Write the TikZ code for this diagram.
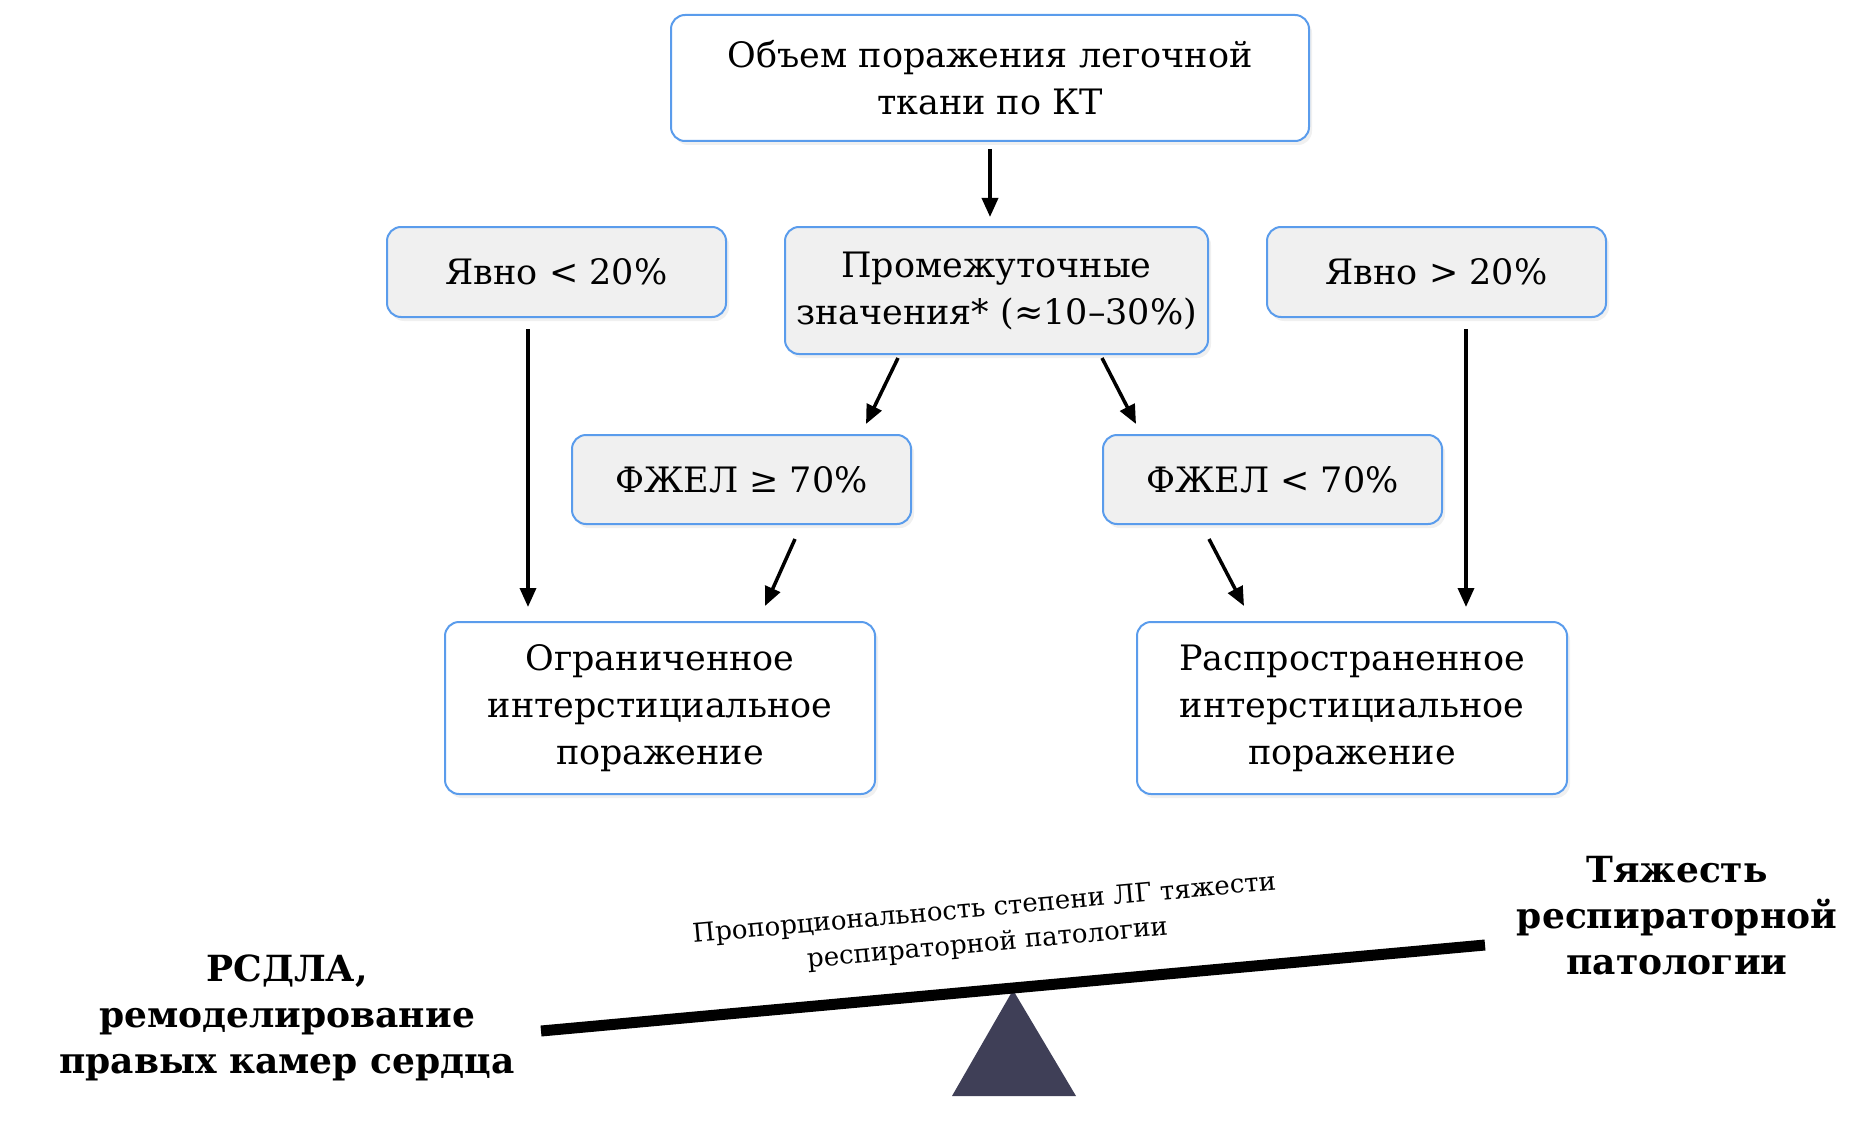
\documentclass[tikz,border=0pt]{standalone}
\usepackage{fontspec}
\setmainfont{DejaVu Serif}
\usetikzlibrary{arrows.meta,calc,shadows}
\definecolor{bordblue}{HTML}{5A9CEC}
\definecolor{boxgray}{HTML}{F0F0F0}
\definecolor{fulcrum}{HTML}{3F3F57}
\tikzset{
  box/.style={draw=bordblue, line width=2pt, rounded corners=14pt, align=center,
    inner sep=0pt, font=\fontsize{35}{47}\selectfont,
    drop shadow={opacity=0.12, shadow xshift=3pt, shadow yshift=-4pt}},
  whitebox/.style={box, fill=white},
  graybox/.style={box, fill=boxgray},
  arr/.style={line width=3.5pt, -{Triangle[length=19pt,width=16pt]}},
  bigLabel/.style={align=center, font=\bfseries\fontsize{36}{46}\selectfont},
  smallLabel/.style={align=center, font=\fontsize{26}{35}\selectfont}
}
\begin{document}
\begin{tikzpicture}[x=1pt,y=-1pt]
\useasboundingbox (0,0) rectangle (1852,1134);
% boxes
\node[whitebox, minimum width=638pt, minimum height=126pt] (top) at (990,78) {Объем поражения легочной\\ткани по КТ};
\node[graybox, minimum width=339pt, minimum height=90pt] (yl) at (556.5,272) {Явно < 20\%};
\node[graybox, minimum width=423pt, minimum height=127pt] (mid) at (996.5,290.5) {Промежуточные\\значения* (≈10–30\%)};
\node[graybox, minimum width=339pt, minimum height=90pt] (yr) at (1436.5,272) {Явно > 20\%};
\node[graybox, minimum width=339pt, minimum height=89pt] (fa) at (741.5,479.5) {ФЖЕЛ ≥ 70\%};
\node[graybox, minimum width=339pt, minimum height=89pt] (fb) at (1272.5,479.5) {ФЖЕЛ < 70\%};
\node[whitebox, minimum width=430pt, minimum height=172pt] (ogr) at (660,708) {Ограниченное\\интерстициальное\\поражение};
\node[whitebox, minimum width=430pt, minimum height=172pt] (ras) at (1352,708) {Распространенное\\интерстициальное\\поражение};
% arrows
\draw[arr] ($(top.south)+(0,7)$) -- ($(mid.north)+(-6.5,-9)$);
\draw[arr] ($(yl.south)+(-28.5,11)$) -- ($(ogr.north)+(-132,-14)$);
\draw[arr] ($(yr.south)+(29.5,11)$) -- ($(ras.north)+(114,-14)$);
\draw[arr] ($(mid.south)+(-98.5,3)$) -- ($(fa.north)+(124.5,-10)$);
\draw[arr] ($(mid.south)+(105.5,3)$) -- ($(fb.north)+(-136.5,-10)$);
\draw[arr] ($(fa.south)+(53.5,14)$) -- ($(ogr.north)+(105,-15)$);
\draw[arr] ($(fb.south)+(-63.5,14)$) -- ($(ras.north)+(-108,-15)$);
% seesaw
\coordinate (apex) at (1013,990);
\coordinate (bl) at (952,1096);
\coordinate (br) at (1076,1096);
\fill[fulcrum] (apex) -- (br) -- (bl) -- cycle;
\coordinate (beamL) at (541,1031);
\coordinate (beamR) at (1485,945);
\draw[line width=11pt] (beamL) -- (beamR);
% labels
\node[bigLabel] (lhs) at (287,1018) {РСДЛА,\\ремоделирование\\правых камер сердца};
\node[bigLabel] (rhs) at (1677,916) {Тяжесть\\респираторной\\патологии};
\node[smallLabel, rotate=5.2] (prop) at (986,927) {Пропорциональность степени ЛГ тяжести\\респираторной патологии};
\end{tikzpicture}
\end{document}
